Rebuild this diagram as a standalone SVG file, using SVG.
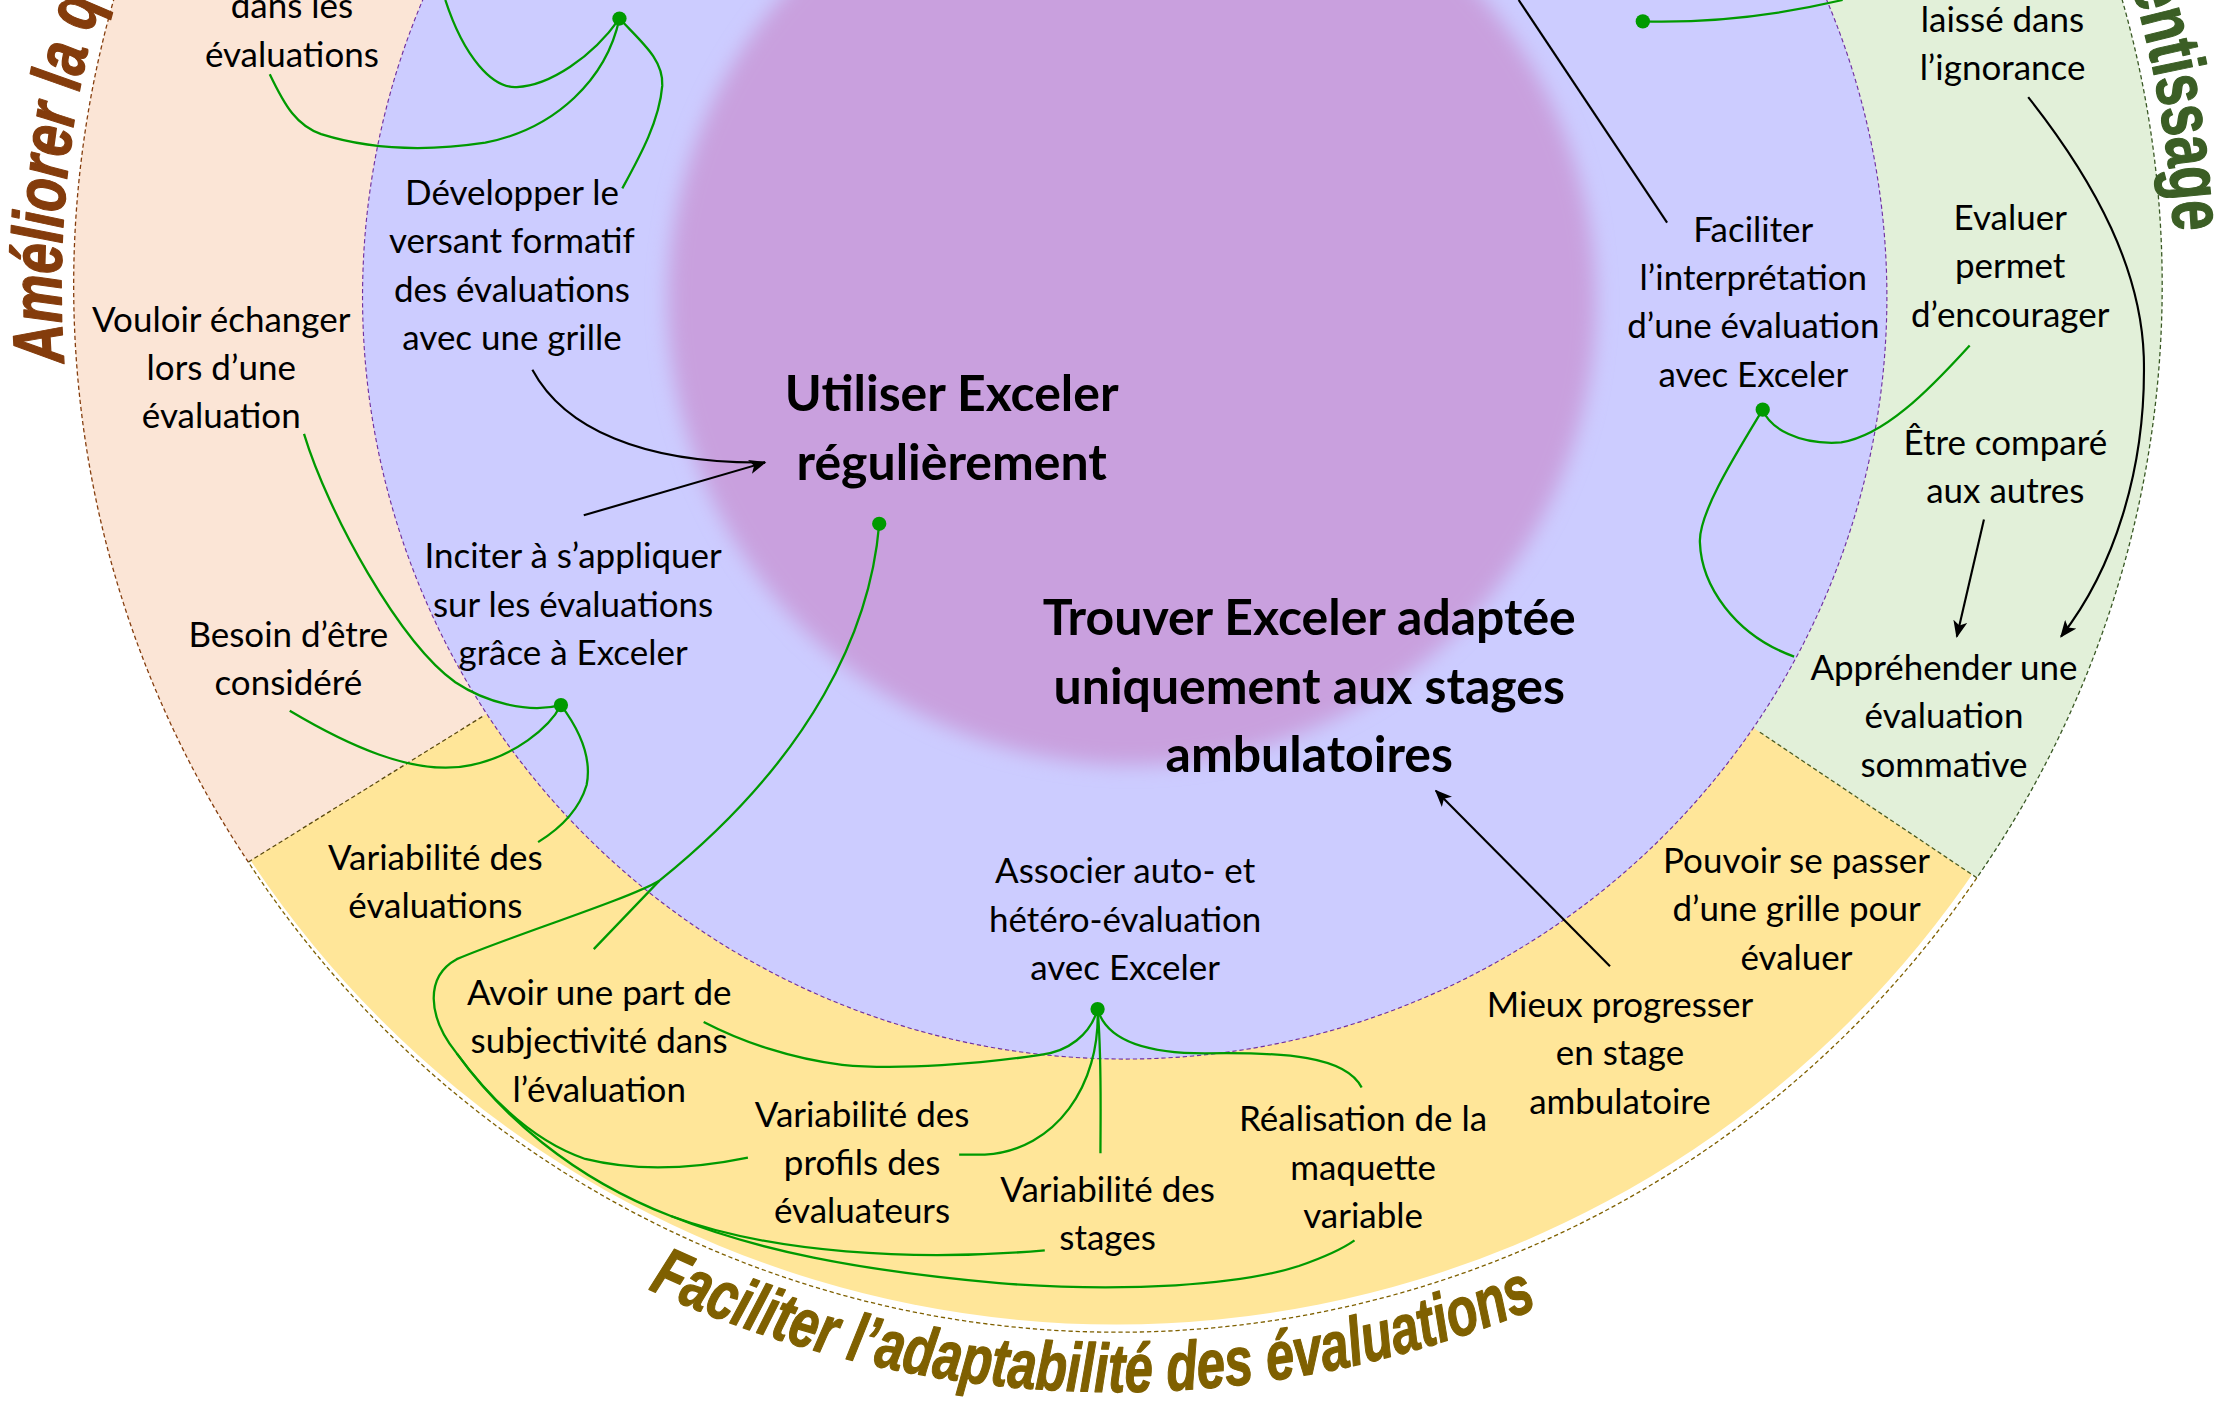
<svg xmlns="http://www.w3.org/2000/svg" width="2238" height="1404" viewBox="0 0 2238 1404">
<defs>
<style>
.t{font-family:Lato,"Open Sans","Liberation Sans",sans-serif;font-size:24.5px;fill:#000;text-anchor:middle}
.b{font-family:Lato,"Open Sans","Liberation Sans",sans-serif;font-weight:bold;font-size:35px;fill:#000;text-anchor:middle}
.ti{font-family:"Liberation Sans Narrow","Liberation Sans",Arial,sans-serif;font-weight:bold;stroke-width:0.9;stroke-linejoin:round}
.g{fill:none;stroke:#009A00;stroke-width:1.6}
.k{fill:none;stroke:#000;stroke-width:1.5}
.dot{fill:#009A00}
.dash{fill:none;stroke-width:0.9;stroke-dasharray:3 2}
</style>
<marker id="arr" viewBox="0 0 12 10" refX="11" refY="5" markerWidth="12" markerHeight="10" orient="auto" markerUnits="userSpaceOnUse">
<path d="M0,0 L12,5 L0,10 L3,5 Z" fill="#000"/>
</marker>
<filter id="blur" x="-20%" y="-20%" width="140%" height="140%">
<feGaussianBlur stdDeviation="7"/>
</filter>
<path id="pLeft" d="M45,254 A739,739 0 0 1 782,-539"/>
<path id="pRight" d="M1493.4,-10.8 A742,742 0 0 1 1521,265"/>
<path id="pBottom" d="M454,903 A775,775 0 0 0 1080,915"/>
</defs>
<rect x="0" y="0" width="2238" height="1404" fill="#FFFFFF"/>
<g transform="scale(1.4273)">
<g id="background">
<circle cx="782" cy="200" r="728" fill="#FFE699"/>
<path d="M338,502 L174,604 A728,728 0 0 1 782,-528 L788,208 Z" fill="#FBE5D6"/>
<path d="M1233,513 L1385,615 A728,728 0 0 0 782,-528 L788,208 Z" fill="#E2F0D9"/>
<path class="dash" d="M174,604 A728,728 0 0 1 782,-528" stroke="#843C0C"/>
<path class="dash" d="M782,-528 A728,728 0 0 1 1385,615" stroke="#385723"/>
<path class="dash" d="M1385,615 A728,728 0 0 1 174,604" stroke="#7F6000"/>
<path class="dash" d="M174,604 L338,502" stroke="#5A4A10"/>
<path class="dash" d="M1233,513 L1385,615" stroke="#4A5A20"/>
<circle cx="788" cy="208" r="534" fill="#CCCCFF" stroke="#7030A0" stroke-width="0.8" stroke-dasharray="3 2"/>
<circle cx="793" cy="211" r="325" fill="#C9A0DE" filter="url(#blur)"/>
</g>
<g id="titles">
<text class="ti" font-size="50" font-style="italic" fill="#843C0C" stroke="#843C0C"><textPath href="#pLeft" textLength="280" lengthAdjust="spacingAndGlyphs">Améliorer la qu</textPath></text>
<text class="ti" font-size="52" fill="#3B5E25" stroke="#3B5E25"><textPath href="#pRight" textLength="176" lengthAdjust="spacingAndGlyphs">entissage</textPath></text>
<text class="ti" font-size="48" font-style="italic" fill="#7F6000" stroke="#7F6000"><textPath href="#pBottom" textLength="642" lengthAdjust="spacingAndGlyphs">Faciliter l’adaptabilité des évaluations</textPath></text>
</g>
<g id="connectors">
<path class="g" d="M312,0 C325,40 345,62 362,61 C385,60 415,40 434,13"/>
<path class="g" d="M189,52 C200,75 208,88 225,94 C260,105 300,106 340,100 C390,90 425,55 434,13"/>
<path class="g" d="M434,13 C450,30 465,42 464,60 C462,85 448,110 436,132"/>
<path class="g" d="M1151,15 C1190,16 1240,12 1291,0"/>
<path class="g" d="M1235,287 C1240,300 1260,312 1290,310 C1320,305 1350,275 1380,242"/>
<path class="g" d="M1235,287 C1215,320 1190,360 1191,380 C1192,410 1215,445 1257,460"/>
<path class="g" d="M213,304 C230,360 280,450 319,478 C340,492 370,500 393,494"/>
<path class="g" d="M203,498 C240,520 290,545 330,536 C360,530 385,510 393,494"/>
<path class="g" d="M393,494 C405,510 415,530 411,550 C405,570 390,582 377,590"/>
<path class="g" d="M616,367 C610,440 570,530 462,617 L416,665"/>
<path class="g" d="M462,617 C440,630 360,655 320,672 C298,684 299,712 320,738 C345,772 375,800 410,812 C450,822 490,818 524,811"/>
<path class="g" d="M320,738 C350,780 400,825 470,852 C540,878 640,884 732,876"/>
<path class="g" d="M470,852 C530,876 600,890 700,899 C790,906 870,900 910,887 C930,880 942,874 949,869"/>
<path class="g" d="M769,707 C764,725 748,737 729,739 C690,745 630,750 590,746 C555,742 520,730 493,716"/>
<path class="g" d="M769,707 C771,760 740,806 690,809 L672,809"/>
<path class="g" d="M769,707 C772,740 771,780 771,808"/>
<path class="g" d="M769,707 C775,728 800,738 844,738 C900,737 943,740 954,762"/>
<path class="k" d="M1064,0 L1168,156"/>
<path class="k" d="M1421,68 C1470,130 1500,190 1502,250 C1504,330 1480,400 1444,446" marker-end="url(#arr)"/>
<path class="k" d="M1390,364 L1371,446" marker-end="url(#arr)"/>
<path class="k" d="M373,259 C395,300 450,325 536,324"/>
<path class="k" d="M409,361 L536,324" marker-end="url(#arr)"/>
<path class="k" d="M1128,677 L1006,554" marker-end="url(#arr)"/>
<circle class="dot" cx="434" cy="13" r="5"/>
<circle class="dot" cx="1151" cy="15" r="5"/>
<circle class="dot" cx="1235" cy="287" r="5"/>
<circle class="dot" cx="393" cy="494" r="5"/>
<circle class="dot" cx="616" cy="367" r="5"/>
<circle class="dot" cx="769" cy="707" r="5"/>
</g>
<g id="n-dans-les"><text class="t"><tspan x="204.5" y="12.8">dans les</tspan><tspan x="204.5" y="46.7">évaluations</tspan></text></g>
<g id="n-developper"><text class="t"><tspan x="358.7" y="143.7">Développer le</tspan><tspan x="358.7" y="177.6">versant formatif</tspan><tspan x="358.7" y="211.5">des évaluations</tspan><tspan x="358.7" y="245.4">avec une grille</tspan></text></g>
<g id="n-vouloir"><text class="t"><tspan x="155" y="232.4">Vouloir échanger</tspan><tspan x="155" y="266.3">lors d’une</tspan><tspan x="155" y="300.2">évaluation</tspan></text></g>
<g id="n-inciter"><text class="t"><tspan x="401.5" y="398.2">Inciter à s’appliquer</tspan><tspan x="401.5" y="432.1">sur les évaluations</tspan><tspan x="401.5" y="466">grâce à Exceler</tspan></text></g>
<g id="n-besoin"><text class="t"><tspan x="202" y="453">Besoin d’être</tspan><tspan x="202" y="486.9">considéré</tspan></text></g>
<g id="n-variab-eval"><text class="t"><tspan x="305" y="609.5">Variabilité des</tspan><tspan x="305" y="643.4">évaluations</tspan></text></g>
<g id="n-avoir"><text class="t"><tspan x="419.8" y="704">Avoir une part de</tspan><tspan x="419.8" y="737.9">subjectivité dans</tspan><tspan x="419.8" y="771.8">l’évaluation</tspan></text></g>
<g id="n-associer"><text class="t"><tspan x="788.3" y="618.8">Associer auto- et</tspan><tspan x="788.3" y="652.7">hétéro-évaluation</tspan><tspan x="788.3" y="686.6">avec Exceler</tspan></text></g>
<g id="n-profils"><text class="t"><tspan x="604" y="789.4">Variabilité des</tspan><tspan x="604" y="823.3">profils des</tspan><tspan x="604" y="857.2">évaluateurs</tspan></text></g>
<g id="n-stages"><text class="t"><tspan x="776" y="842">Variabilité des</tspan><tspan x="776" y="875.9">stages</tspan></text></g>
<g id="n-realisation"><text class="t"><tspan x="955" y="792.5">Réalisation de la</tspan><tspan x="955" y="826.4">maquette</tspan><tspan x="955" y="860.3">variable</tspan></text></g>
<g id="n-mieux"><text class="t"><tspan x="1135" y="712.5">Mieux progresser</tspan><tspan x="1135" y="746.4">en stage</tspan><tspan x="1135" y="780.3">ambulatoire</tspan></text></g>
<g id="n-pouvoir"><text class="t"><tspan x="1258.7" y="611.7">Pouvoir se passer</tspan><tspan x="1258.7" y="645.6">d’une grille pour</tspan><tspan x="1258.7" y="679.5">évaluer</tspan></text></g>
<g id="n-faciliter"><text class="t"><tspan x="1228.4" y="169.3">Faciliter</tspan><tspan x="1228.4" y="203.2">l’interprétation</tspan><tspan x="1228.4" y="237.1">d’une évaluation</tspan><tspan x="1228.4" y="271">avec Exceler</tspan></text></g>
<g id="n-laisse"><text class="t"><tspan x="1403" y="22.2">laissé dans</tspan><tspan x="1403" y="56.1">l’ignorance</tspan></text></g>
<g id="n-evaluer"><text class="t"><tspan x="1408.4" y="161.1">Evaluer</tspan><tspan x="1408.4" y="195">permet</tspan><tspan x="1408.4" y="228.9">d’encourager</tspan></text></g>
<g id="n-compare"><text class="t"><tspan x="1405" y="318.8">Être comparé</tspan><tspan x="1405" y="352.7">aux autres</tspan></text></g>
<g id="n-apprehender"><text class="t"><tspan x="1362" y="476.4">Appréhender une</tspan><tspan x="1362" y="510.3">évaluation</tspan><tspan x="1362" y="544.2">sommative</tspan></text></g>
<g id="n-utiliser"><text class="b"><tspan x="666.8" y="287.8">Utiliser Exceler</tspan><tspan x="666.8" y="336">régulièrement</tspan></text></g>
<g id="n-trouver"><text class="b"><tspan x="917.3" y="445">Trouver Exceler adaptée</tspan><tspan x="917.3" y="493">uniquement aux stages</tspan><tspan x="917.3" y="541">ambulatoires</tspan></text></g>
</g>
</svg>
